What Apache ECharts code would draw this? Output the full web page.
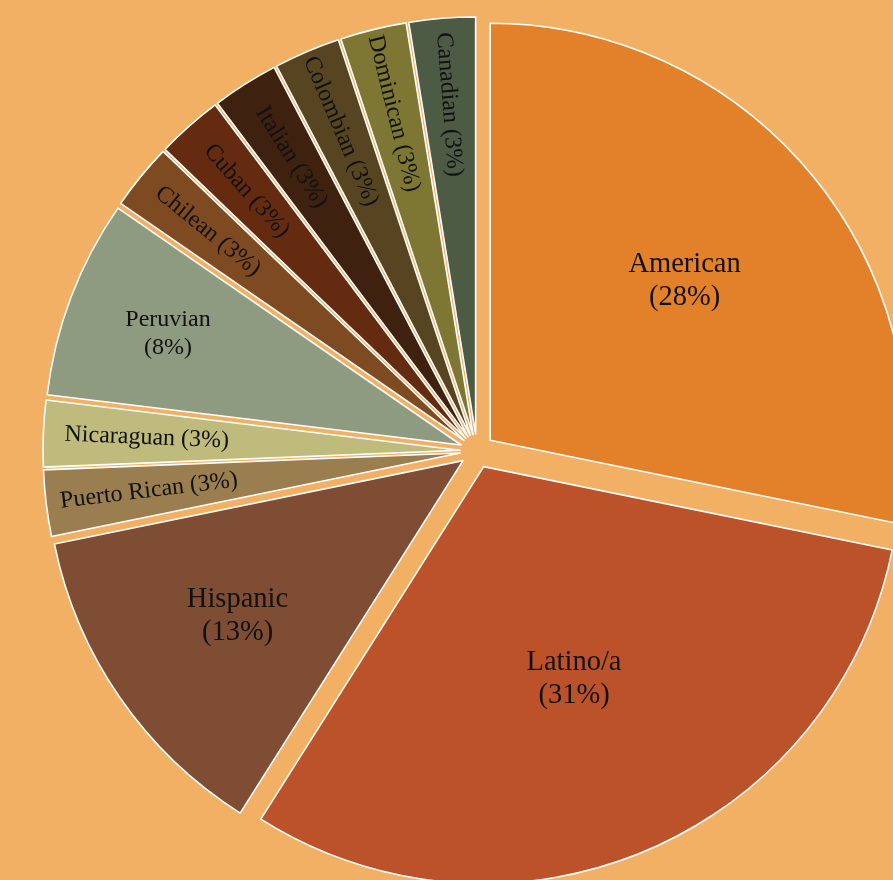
<!DOCTYPE html>
<html><head><meta charset="utf-8">
<script src="https://cdn.jsdelivr.net/npm/echarts@6/dist/echarts.min.js"></script>
<style>html,body{margin:0;padding:0;background:#F1B064;overflow:hidden}#c{width:893px;height:880px}</style>
</head><body><div id="c"></div>
<script>
const categories = ['American','Latino/a','Hispanic','Puerto Rican','Nicaraguan','Peruvian','Chilean','Cuban','Italian','Colombian','Dominican','Canadian'];
const counts = [11,12,5,1,1,3,1,1,1,1,1,1];
const sliceColors = ['#E2812A','#BC5229','#7F4D33','#9A7E50','#BFBB7C','#8E9B80','#7D4A21','#652B10','#3F2110','#574522','#7E7734','#4D5B45'];
const twoLineLabel = [true,true,true,false,false,true,false,false,false,false,false,false];
const bigFont = [true,true,true,false,false,false,false,false,false,false,false,false];
// label radial placement groups (fraction of radius) per slice
const labelGroups = [
  {k:0.595, idx:[0]},
  {k:0.545, idx:[1]},
  {k:0.65, idx:[2]},
  {k:0.745, idx:[3,4,5]},
  {k:0.785, idx:[6,7,8,9,10,11]}
];

const total = counts.reduce((a,b)=>a+b,0);
const CENTER = [477, 451];
const R = 417;
const OFFSET = 17;
const FONT = "'Liberation Serif','Times New Roman',serif";

function pct(v){ return Math.round(v/total*100); }

const baseSeries = {
  type:'pie', center:CENTER, radius:[0,R], startAngle:90, clockwise:true,
  selectedMode:'multiple', selectedOffset:OFFSET, avoidLabelOverlap:false,
  animation:false, silent:true, emphasis:{disabled:true},
  label:{show:false}, labelLine:{show:false},
  data: categories.map((c,i)=>({
    name:c, value:counts[i], selected:true,
    itemStyle:{color:sliceColors[i], borderColor:'#ffffff', borderWidth:1.6}
  })),
  select:{itemStyle:{borderColor:'#ffffff', borderWidth:1.6}}
};

const labelSeries = labelGroups.map(g=>({
  type:'pie', center:CENTER, radius:[Math.round((2*g.k-1)*R), R], startAngle:90, clockwise:true,
  selectedMode:'multiple', selectedOffset:OFFSET, avoidLabelOverlap:false,
  animation:false, silent:true, emphasis:{disabled:true},
  labelLine:{show:false},
  data: categories.map((c,i)=>{
    const show = g.idx.indexOf(i) >= 0;
    const fs = bigFont[i] ? 28.5 : 24;
    return {
      name:c, value:counts[i], selected:true,
      itemStyle:{color:'rgba(0,0,0,0)', borderWidth:0},
      label:{
        show:show, position:'inside',
        rotate: twoLineLabel[i] ? 0 : 'radial',
        formatter: twoLineLabel[i] ? (c + '\n(' + pct(counts[i]) + '%)') : (c + ' (' + pct(counts[i]) + '%)'),
        fontFamily:FONT, fontSize:fs, lineHeight:Math.round(fs*1.17), color:'#111111', align:'center'
      }
    };
  }),
  select:{itemStyle:{color:'rgba(0,0,0,0)', borderWidth:0}}
}));

const chart = echarts.init(document.getElementById('c'), null, {renderer:'canvas'});
chart.setOption({
  backgroundColor:'#F1B064',
  animation:false,
  series:[baseSeries].concat(labelSeries)
});
</script></body></html>
